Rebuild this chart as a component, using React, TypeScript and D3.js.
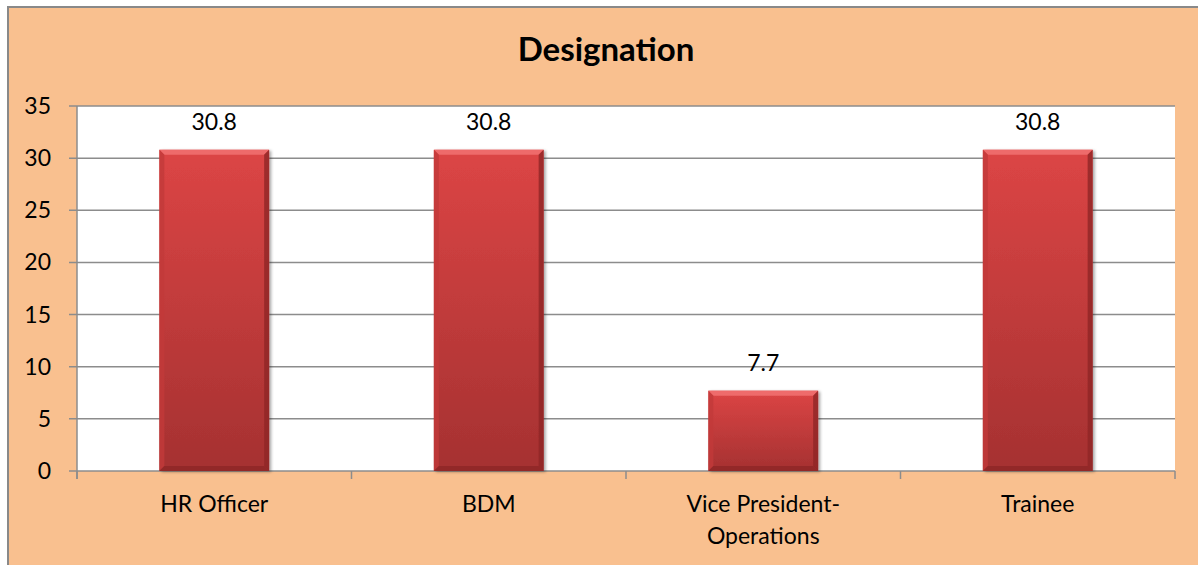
import React from "react";
import * as d3 from "d3";

const categories = ["HR Officer", "BDM", "Vice President-\nOperations", "Trainee"];
const values = [30.8, 30.8, 7.7, 30.8];
const yTicks = [0, 5, 10, 15, 20, 25, 30, 35];
const title = "Designation";

export default function App() {
  const W = 1198, H = 565;
  const left = 77, right = 1175, top = 106, bottom = 471;
  const x = d3.scaleBand<string>().domain(categories).range([left, right]).paddingInner(0.6).paddingOuter(0.3);
  const y = d3.scaleLinear().domain([0, 35]).range([bottom, top]);
  const font = "Lato, 'Open Sans', sans-serif";
  const step = (right - left) / categories.length;
  const bev = 5;
  return (
    <svg width={W} height={H} style={{ position: "absolute", left: 0, top: 0 }}>
      <defs>
        <linearGradient id="barg" x1="0" y1="0" x2="0" y2="1">
          <stop offset="0" stopColor="#dc4545" />
          <stop offset="1" stopColor="#a53131" />
        </linearGradient>
        <filter id="sh" x="-20%" y="-20%" width="140%" height="140%">
          <feDropShadow dx="2" dy="1" stdDeviation="1.5" floodColor="#000" floodOpacity="0.35" />
        </filter>
      </defs>
      <rect x={0} y={0} width={W} height={H} fill="#fff" />
      <rect x={8} y={7} width={W + 10} height={H + 10} fill="#f9c08f" stroke="#898989" strokeWidth={2} />
      <text x={606} y={61} textAnchor="middle" fontFamily={font} fontWeight="bold" fontSize={33} fill="#000">{title}</text>
      <rect x={left} y={top} width={right - left} height={bottom - top} fill="#fff" />
      {yTicks.map((t) => (
        <g key={t}>
          <line x1={left - 8} x2={right} y1={y(t)} y2={y(t)} stroke="#8c8c8c" strokeWidth={1.5} />
          <text x={left - 26} y={y(t) + 8} textAnchor="end" fontFamily={font} fontSize={23} fill="#000">{t}</text>
        </g>
      ))}
      <line x1={left} x2={left} y1={top} y2={bottom + 8} stroke="#8c8c8c" strokeWidth={1.5} />
      {d3.range(categories.length + 1).map((i) => (
        <line key={i} x1={left + i * step} x2={left + i * step} y1={bottom} y2={bottom + 8} stroke="#8c8c8c" strokeWidth={1.5} />
      ))}
      {categories.map((c, i) => {
        const bx = x(c)!, bw = x.bandwidth(), by = y(values[i]), bh = bottom - by;
        return (
          <g key={c}>
            <g filter="url(#sh)">
              <rect x={bx} y={by} width={bw} height={bh} fill="url(#barg)" />
            </g>
            <polygon points={`${bx},${by} ${bx + bw},${by} ${bx + bw - bev},${by + bev} ${bx + bev},${by + bev}`} fill="#ee6b6b" />
            <polygon points={`${bx},${by} ${bx + bev},${by + bev} ${bx + bev},${by + bh - bev} ${bx},${by + bh}`} fill="#c23a3a" opacity={0.8} />
            <polygon points={`${bx + bw},${by} ${bx + bw - bev},${by + bev} ${bx + bw - bev},${by + bh - bev} ${bx + bw},${by + bh}`} fill="#8e2626" opacity={0.8} />
            <polygon points={`${bx},${by + bh} ${bx + bev},${by + bh - bev} ${bx + bw - bev},${by + bh - bev} ${bx + bw},${by + bh}`} fill="#8a2424" opacity={0.7} />
            <text x={bx + bw / 2} y={by - 20} textAnchor="middle" fontFamily={font} fontSize={23} fill="#000">{values[i]}</text>
            {c.split("\n").map((ln, k) => (
              <text key={k} x={bx + bw / 2} y={512 + k * 32} textAnchor="middle" fontFamily={font} fontSize={23} fill="#000">{ln}</text>
            ))}
          </g>
        );
      })}
    </svg>
  );
}
